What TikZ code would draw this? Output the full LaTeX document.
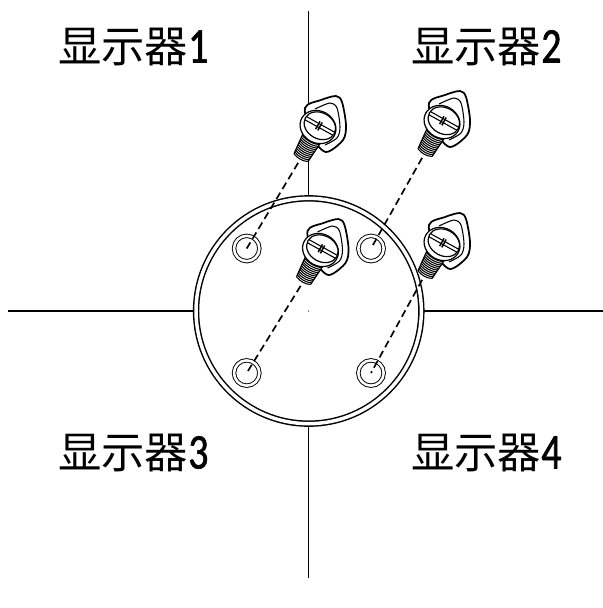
\documentclass[tikz,border=0pt]{standalone}
\usepackage{fontspec}
\setmainfont{Noto Sans CJK SC}
\newfontfamily\digitfont[Scale=1.15, FakeStretch=0.8, FakeBold=1.2]{Carlito}
\usetikzlibrary{positioning}
\tikzset{
    wall/.style = {line width=1pt},
    plate/.style = {
        circle, draw=black, fill=white, line width=1.1pt,
        double=white, double distance=2.6pt,
        inner sep=0pt, outer sep=1.9pt, minimum size=169pt
    },
    hole/.style = {
        circle, draw=black, fill=white, line width=0.7pt,
        double=white, double distance=1.9pt,
        inner sep=0pt, outer sep=0pt, minimum size=19pt
    },
    guide/.style = {line width=1.25pt, dash pattern=on 5.5pt off 3.2pt},
    monitor/.style = {anchor=west, inner sep=0pt, font=\fontsize{32.5}{36}\selectfont},
    screwline/.style = {line width=0.9pt, fill=white},
    screw/.pic = {
        % ear behind the head
        \draw [line width=1.3pt, fill=white]
            plot [smooth cycle] coordinates {(-13,-19) (3,-27) (18,-31) (24,-25) (28,-2) (25,13) (8,25) (-6,10)};
        \draw [line width=0.8pt]
            plot [smooth] coordinates {(-3,-18) (12,-24) (19,-19) (22,0) (19,11) (7,18)};
        \begin{scope}[rotate=-29]
            % thread
            \fill [white] (-10,12) -- (10,12) -- (8,36) -- (-8,36) -- cycle;
            \foreach \t/\w in {13/10, 15/9.8, 17/9.7, 19/9.5, 21/9.3, 23/9.2, 25/9, 27/8.8, 29/8.6, 31/8.4, 33/8.2, 35/8} {
                \draw [line width=0.8pt] (-\w,\t) .. controls (-3,\t+2.4) and (3,\t+2.4) .. (\w,\t);
            }
            \draw [line width=0.9pt] (-10,12) -- (-8,35) (10,12) -- (8,35);
            % head
            \draw [screwline] (0,0) ellipse (18.5 and 16);
            \draw [screwline] (1,-2) ellipse (16.5 and 13);
            \draw [line width=0.8pt] (-15,-3.5) -- (17,-3.5) (-15,0) -- (17,0);
            \draw [line width=1.1pt] (-1,-6) -- (-1,3) (1.5,-6) -- (1.5,3);
            \coordinate (-tip) at (0,41);
        \end{scope}
    }
}
\begin{document}
\begin{tikzpicture}[x=0.75pt, y=-0.75pt]
    \useasboundingbox (0,0) rectangle (603,608);

    % Draw plate and holes
    \node (disc) [plate] at (308.7,311) {};
    \node (holea) [hole] at (246.7,248.5) {};
    \node (holeb) [hole] at (371,248.5) {};
    \node (holec) [hole] at (246.7,373) {};
    \node (holed) [hole] at (371,373) {};
    \node (dot) [circle, fill=black, inner sep=0pt, minimum size=1pt] at (308.7,311) {};

    % Draw walls
    \coordinate (topend) at (308.7,11);
    \coordinate (bottomend) at (308.7,578);
    \coordinate (leftend) at (8,311);
    \coordinate (rightend) at (603,311);
    \draw [wall] (topend) -- (disc.north);
    \draw [wall] (bottomend) -- (disc.south);
    \draw [wall] (leftend) -- (disc.west);
    \draw [wall] (rightend) -- (disc.east);

    % Draw screws
    \pic (screwa) at (318,127) {screw};
    \pic (screwb) at (442,122) {screw};
    \pic (screwc) at (320.5,250) {screw};
    \pic (screwd) at (442,244) {screw};

    % Draw guides
    \draw [guide] (screwa-tip) -- (holea.center);
    \draw [guide] (screwb-tip) -- (holeb.center);
    \draw [guide] (screwc-tip) -- (holec.center);
    \draw [guide] (screwd-tip) -- (holed.center);

    % Draw labels
    \node (monitora) [monitor] at (58,47) {显示器{\digitfont 1}};
    \node (monitorb) [monitor] at (411,47) {显示器{\digitfont 2}};
    \node (monitorc) [monitor] at (58,453) {显示器{\digitfont 3}};
    \node (monitord) [monitor] at (411,453) {显示器{\digitfont 4}};
\end{tikzpicture}
\end{document}
